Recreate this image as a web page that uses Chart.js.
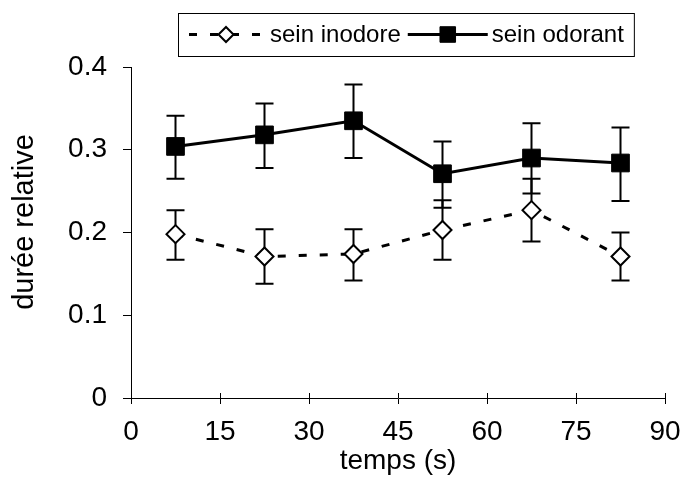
<!DOCTYPE html>
<html>
<head>
<meta charset="utf-8">
<script src="https://cdn.jsdelivr.net/npm/chart.js@4.4.0/dist/chart.umd.min.js"></script>
<style>
  html, body { margin: 0; padding: 0; background: #fff; }
</style>
</head>
<body>
<canvas id="chart" width="686" height="478"></canvas>
<script>
// time bins (s), centre of each 15 s window
const timePoints = [7.5, 22.5, 37.5, 52.5, 67.5, 82.5];
const seriesNames = ['sein inodore', 'sein odorant'];

// sein inodore: mean and error bar ends
const inodoreMean = [0.198, 0.171, 0.174, 0.203, 0.227, 0.171];
const inodoreLow  = [0.167, 0.138, 0.142, 0.167, 0.189, 0.142];
const inodoreHigh = [0.227, 0.204, 0.204, 0.239, 0.265, 0.200];

// sein odorant: mean and error bar ends
const odorantMean = [0.304, 0.318, 0.335, 0.271, 0.290, 0.284];
const odorantLow  = [0.265, 0.278, 0.290, 0.230, 0.247, 0.238];
const odorantHigh = [0.341, 0.356, 0.379, 0.310, 0.332, 0.327];

const xTicks = [0, 15, 30, 45, 60, 75, 90];
const yTicks = [0, 0.1, 0.2, 0.3, 0.4];
const yTitle = 'durée relative';

const FONT = "'Liberation Sans', Arial, sans-serif";
Chart.defaults.font.family = FONT;
Chart.defaults.color = '#000';

// Draw the error bars behind the markers
const errorBars = {
  id: 'errorBars',
  beforeDatasetsDraw(chart) {
    const { ctx, scales: { x, y } } = chart;
    ctx.save();
    ctx.strokeStyle = '#000';
    ctx.lineWidth = 2;
    [[inodoreLow, inodoreHigh], [odorantLow, odorantHigh]].forEach(([lo, hi]) => {
      timePoints.forEach((t, i) => {
        const px = x.getPixelForValue(t);
        const pl = y.getPixelForValue(lo[i]);
        const ph = y.getPixelForValue(hi[i]);
        ctx.beginPath();
        ctx.moveTo(px, pl); ctx.lineTo(px, ph);
        ctx.moveTo(px - 9, pl); ctx.lineTo(px + 9, pl);
        ctx.moveTo(px - 9, ph); ctx.lineTo(px + 9, ph);
        ctx.stroke();
      });
    });
    // x tick marks cross the axis: add the inner half
    const base = y.getPixelForValue(0);
    ctx.lineWidth = 1;
    ctx.beginPath();
    xTicks.forEach(v => {
      const px = Math.round(x.getPixelForValue(v)) + 0.5;
      ctx.moveTo(px, base); ctx.lineTo(px, base - 5);
    });
    ctx.stroke();
    ctx.restore();
  }
};

// Boxed legend with line + marker samples, and the y title
const boxLegend = {
  id: 'boxLegend',
  afterDraw(chart) {
    const ctx = chart.ctx;
    const left = 178, top = 13, h = 43, sampleW = 80;
    const legendRadius = [7.5, 11];
    const cy = top + h / 2;
    ctx.save();
    ctx.font = '24px ' + FONT;
    ctx.textBaseline = 'middle';
    let x = left + 8;
    chart.data.datasets.forEach((ds, i) => {
      ctx.strokeStyle = '#000';
      ctx.lineWidth = ds.borderWidth;
      ctx.setLineDash(ds.borderDash || []);
      ctx.lineDashOffset = ds.borderDash ? -3 : 0;
      ctx.beginPath();
      ctx.moveTo(x, cy); ctx.lineTo(x + sampleW, cy);
      ctx.stroke();
      ctx.setLineDash([]);
      ctx.fillStyle = ds.pointBackgroundColor;
      ctx.strokeStyle = ds.pointBorderColor;
      ctx.lineWidth = ds.pointBorderWidth;
      Chart.helpers.drawPoint(ctx, { pointStyle: ds.pointStyle, radius: legendRadius[i], rotation: 0, borderWidth: ds.pointBorderWidth }, x + sampleW / 2, cy);
      x += sampleW + 4;
      ctx.fillStyle = '#000';
      ctx.fillText(seriesNames[i], x, cy + 1);
      x += ctx.measureText(seriesNames[i]).width + 7;
    });
    ctx.lineWidth = 1;
    ctx.strokeStyle = '#000';
    ctx.strokeRect(left + 0.5, top + 0.5, x + 3 - left, h);

    // y axis title
    ctx.font = '29px ' + FONT;
    ctx.textAlign = 'center';
    ctx.translate(25, 222);
    ctx.rotate(-Math.PI / 2);
    ctx.fillText(yTitle, 0, 0);
    ctx.restore();
  }
};

new Chart(document.getElementById('chart'), {
  type: 'line',
  data: {
    datasets: [
      {
        label: seriesNames[0],
        data: timePoints.map((t, i) => ({ x: t, y: inodoreMean[i] })),
        borderColor: '#000',
        borderWidth: 3,
        borderDash: [8, 13],
        pointStyle: 'rectRot',
        pointRadius: 9,
        pointBackgroundColor: '#fff',
        pointBorderColor: '#000',
        pointBorderWidth: 2,
        tension: 0
      },
      {
        label: seriesNames[1],
        data: timePoints.map((t, i) => ({ x: t, y: odorantMean[i] })),
        borderColor: '#000',
        borderWidth: 3,
        pointStyle: 'rect',
        pointRadius: 12.5,
        pointBackgroundColor: '#000',
        pointBorderColor: '#000',
        pointBorderWidth: 1,
        tension: 0
      }
    ]
  },
  options: {
    responsive: false,
    animation: false,
    layout: { padding: { top: 67, right: 21, left: 0, bottom: 0 } },
    plugins: {
      legend: { display: false },
      tooltip: { enabled: false }
    },
    scales: {
      x: {
        type: 'linear',
        min: 0,
        max: 90,
        afterBuildTicks: s => { s.ticks = xTicks.map(v => ({ value: v })); },
        afterFit: s => { s.height = 80; s.paddingLeft = 0; s.paddingRight = 0; },
        grid: { drawOnChartArea: false, drawTicks: true, tickLength: 6, color: '#000' },
        border: { color: '#000', width: 1 },
        ticks: { color: '#000', font: { size: 28 }, padding: 11, maxRotation: 0, autoSkip: false },
        title: { display: true, text: 'temps (s)', color: '#000', font: { size: 28 }, padding: { top: 0, bottom: 0 } }
      },
      y: {
        type: 'linear',
        min: 0,
        max: 0.4,
        afterBuildTicks: s => { s.ticks = yTicks.map(v => ({ value: v })); },
        afterFit: s => { s.width = 131; s.paddingTop = 0; s.paddingBottom = 0; },
        grid: { drawOnChartArea: false, drawTicks: true, tickLength: 8, color: '#000' },
        border: { color: '#000', width: 1 },
        ticks: {
          color: '#000', font: { size: 28 }, padding: 16, autoSkip: false,
          callback: v => (v === 0 ? '0' : v.toFixed(1))
        }
      }
    }
  },
  plugins: [errorBars, boxLegend]
});
</script>
</body>
</html>
